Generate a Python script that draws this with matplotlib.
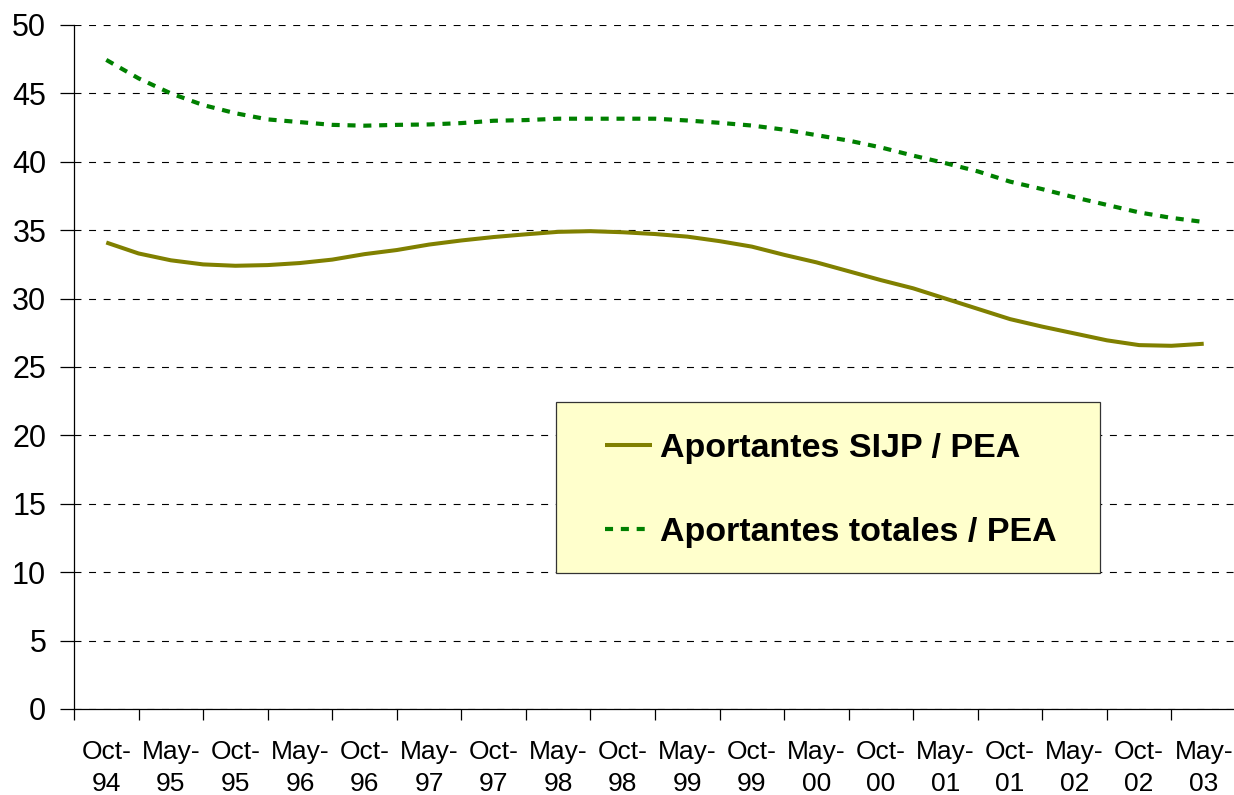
import numpy as np
import matplotlib
matplotlib.use("Agg")
import matplotlib.pyplot as plt
from matplotlib.patches import Rectangle
from matplotlib.ticker import FixedLocator, NullFormatter, FixedFormatter

# Etiquetas del eje (ondas EPH, mayo / octubre)
categorias = ["Oct-\n94", "May-\n95", "Oct-\n95", "May-\n96", "Oct-\n96", "May-\n97",
              "Oct-\n97", "May-\n98", "Oct-\n98", "May-\n99", "Oct-\n99", "May-\n00",
              "Oct-\n00", "May-\n01", "Oct-\n01", "May-\n02", "Oct-\n02", "May-\n03"]

# Valores leidos cada medio periodo, desde el centro de Oct-94 hasta el de May-03
sijp_pea = [34.1, 33.3, 32.8, 32.5, 32.4, 32.45, 32.6, 32.85, 33.25, 33.55,
            33.95, 34.25, 34.5, 34.7, 34.88, 34.93, 34.85, 34.72, 34.53, 34.2,
            33.8, 33.2, 32.65, 32.0, 31.35, 30.75, 30.0, 29.25, 28.5, 27.95,
            27.45, 26.95, 26.6, 26.55, 26.7]
totales_pea = [47.45, 46.1, 45.0, 44.15, 43.55, 43.1, 42.9, 42.7, 42.64, 42.7,
               42.73, 42.83, 43.0, 43.05, 43.15, 43.15, 43.15, 43.15, 43.02, 42.85,
               42.65, 42.35, 41.95, 41.55, 41.05, 40.45, 39.9, 39.3, 38.55, 38.0,
               37.4, 36.85, 36.3, 35.9, 35.6]

paso = 0.5
x = 0.5 + paso * np.arange(len(sijp_pea))

plt.rcParams['lines.scale_dashes'] = False
plt.rcParams['font.family'] = ['Liberation Sans', 'DejaVu Sans']

W, H = 1234, 795
fig = plt.figure(figsize=(W / 100, H / 100), dpi=100)
ax = fig.add_axes([74 / W, 86 / H, 1162 / W, 684 / H])

ax.plot(x, sijp_pea, color='#808000', lw=2.9, label='Aportantes SIJP / PEA',
        solid_joinstyle='round', solid_capstyle='butt')
ax.plot(x, totales_pea, color='#008000', lw=3.0, linestyle=(0, (5.8, 5.6)),
        label='Aportantes totales / PEA')

ax.set_xlim(0, len(categorias))
ax.set_ylim(0, 50)
ax.set_yticks(np.arange(0, 51, 5))
ax.yaxis.grid(True, color='black', lw=0.8, linestyle=(0, (5, 5.5)))
ax.set_axisbelow(True)

# ticks mayores en los limites, etiquetas centradas en cada intervalo
ax.xaxis.set_major_locator(FixedLocator(np.arange(0, len(categorias) + 1)))
ax.xaxis.set_major_formatter(NullFormatter())
ax.xaxis.set_minor_locator(FixedLocator(np.arange(len(categorias)) + 0.5))
ax.xaxis.set_minor_formatter(FixedFormatter(categorias))
ax.tick_params(axis='x', which='major', direction='out', length=8, width=0.9)
ax.tick_params(axis='x', which='minor', length=0, pad=22)
ax.tick_params(axis='y', direction='out', length=10, width=0.9, pad=10,
               labelsize=22)
for lab in ax.xaxis.get_minorticklabels():
    lab.set_fontsize(19)
    lab.set_linespacing(1.45)

for s in ['top', 'right']:
    ax.spines[s].set_visible(False)
ax.spines['left'].set_linewidth(0.9)
ax.spines['bottom'].set_linewidth(0.9)

# recuadro de la leyenda (fondo amarillo claro)
caja = Rectangle((556 / W, 1 - 573 / H), 544 / W, 171 / H, transform=fig.transFigure,
                 facecolor='#FFFFCC', edgecolor='#333333', lw=0.9, zorder=4)
ax.add_patch(caja)
caja.set_clip_on(False)

leg = ax.legend(loc='upper left', bbox_to_anchor=(605 / W, 1 - 433 / H),
                bbox_transform=fig.transFigure, frameon=False,
                prop={'weight': 'bold', 'size': 24.5},
                handlelength=1.38, handletextpad=0.25, labelspacing=1.55,
                borderpad=0, borderaxespad=0)
leg.set_zorder(5)

fig.savefig('out.png', dpi=100)
